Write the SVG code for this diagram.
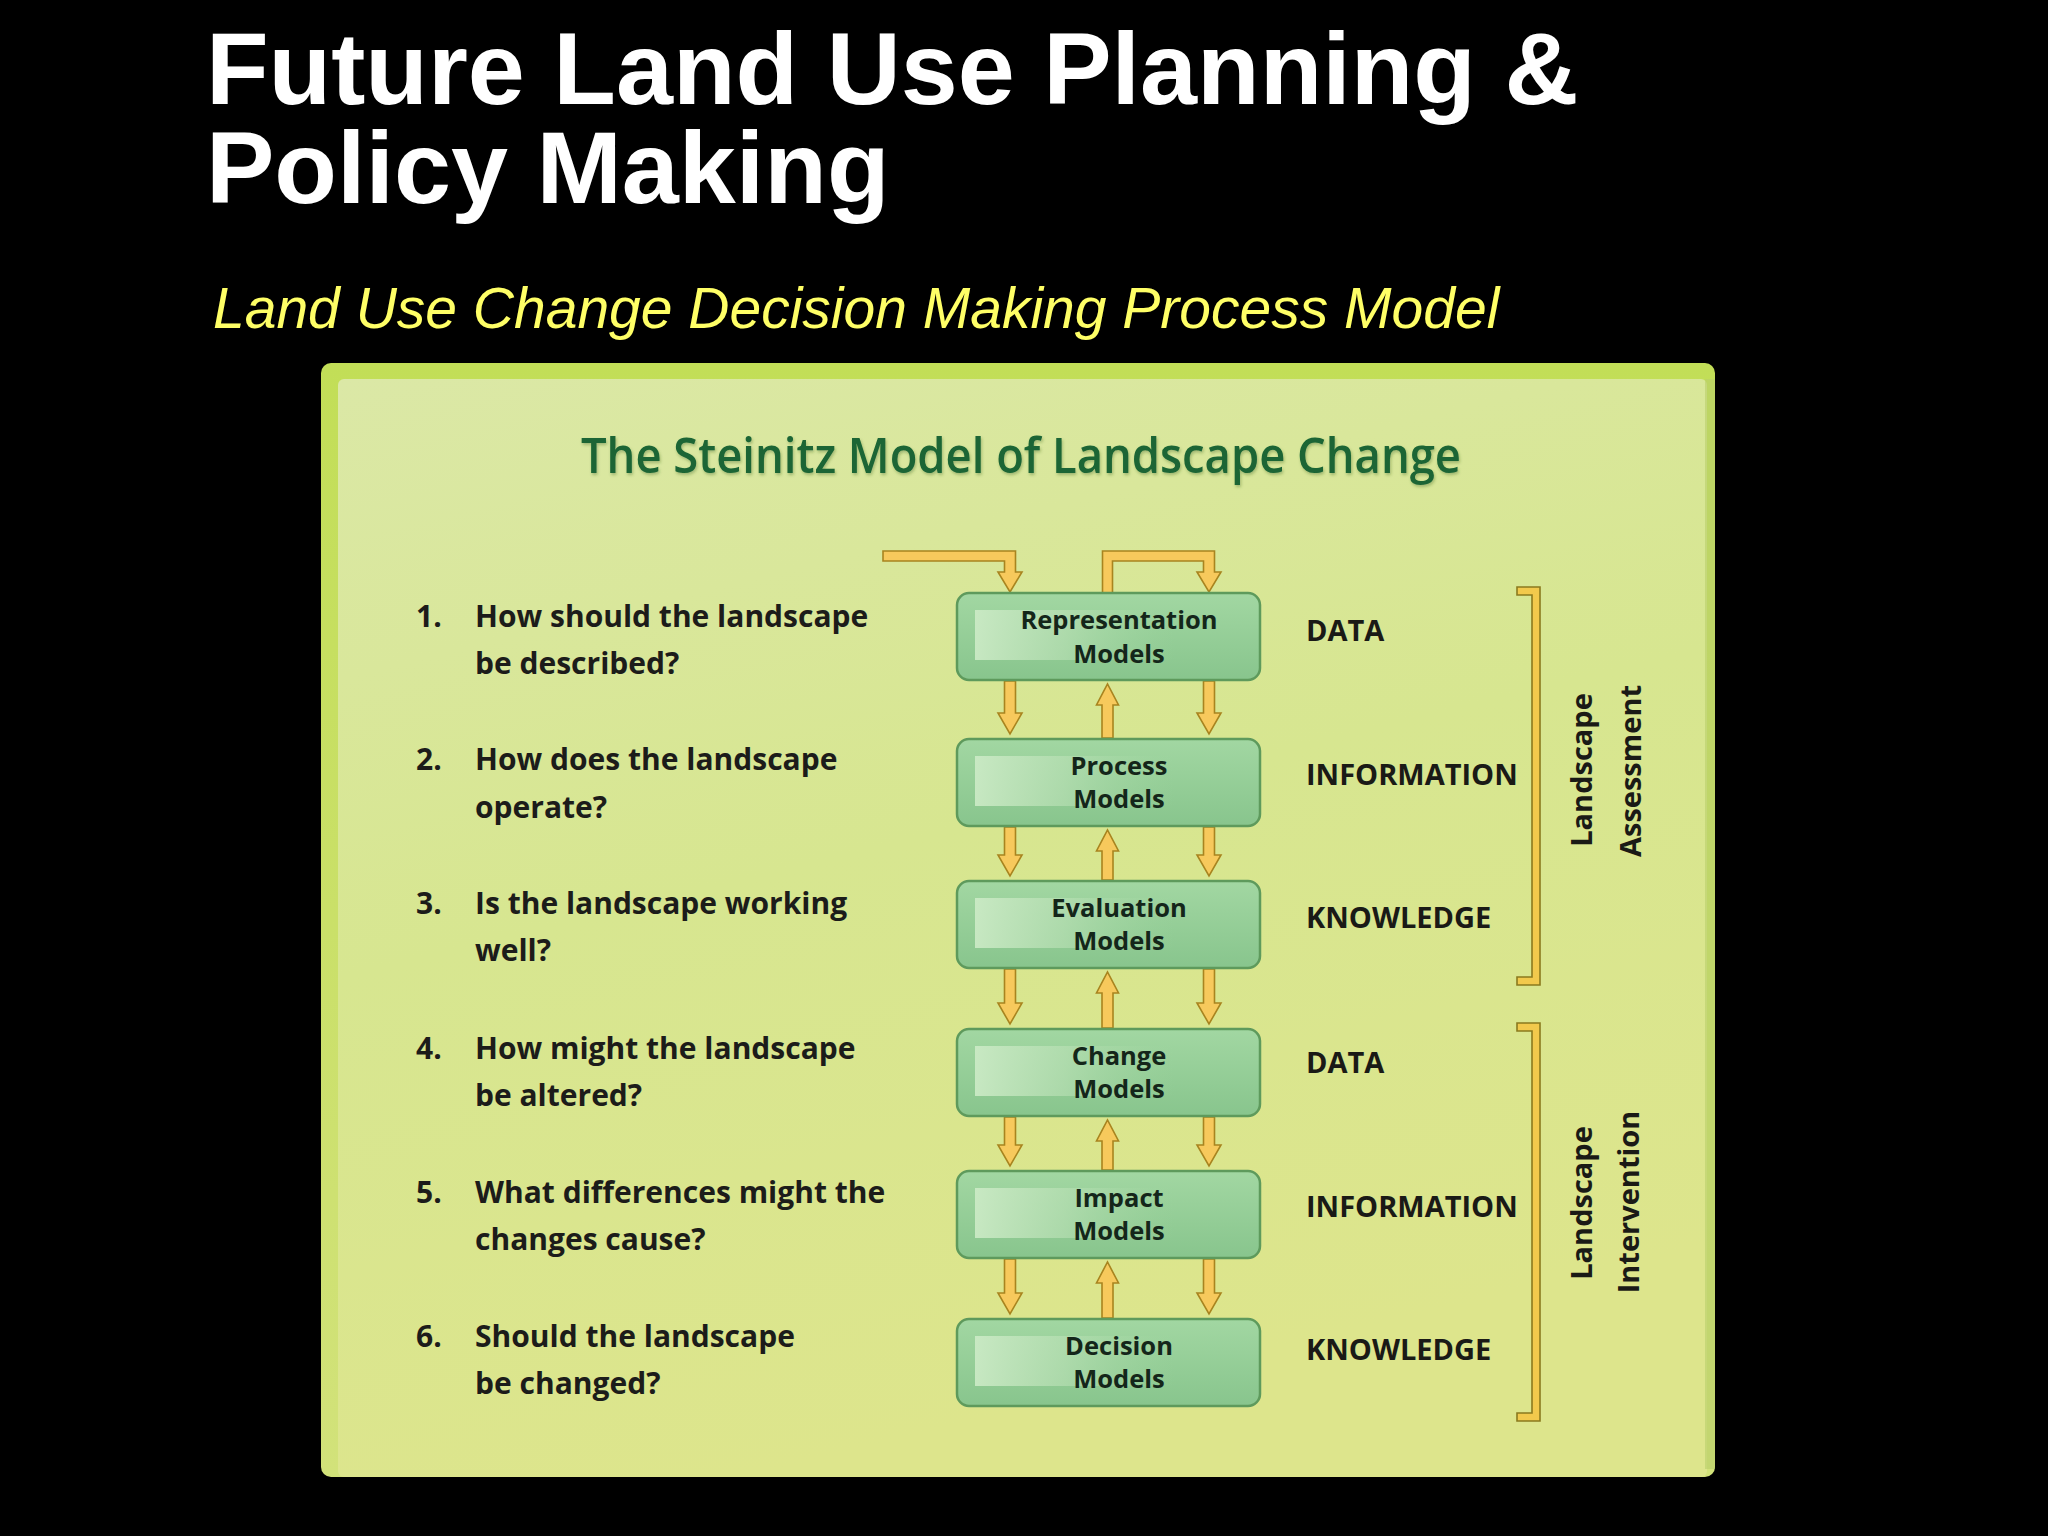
<svg xmlns="http://www.w3.org/2000/svg" width="2048" height="1536" viewBox="0 0 2048 1536">
<defs>
<linearGradient id="rim" x1="0" y1="0" x2="0" y2="1">
<stop offset="0" stop-color="#c2de57"/>
<stop offset="1" stop-color="#d2e27a"/>
</linearGradient>
<linearGradient id="inner" x1="0" y1="0" x2="0.3" y2="1">
<stop offset="0" stop-color="#dbe8a6"/>
<stop offset="0.5" stop-color="#d7e690"/>
<stop offset="1" stop-color="#dde58c"/>
</linearGradient>
<linearGradient id="boxfill" x1="0" y1="0" x2="0" y2="1">
<stop offset="0" stop-color="#a2d7a2"/>
<stop offset="1" stop-color="#88c58d"/>
</linearGradient>
<linearGradient id="hl" x1="0" y1="0" x2="1" y2="0">
<stop offset="0" stop-color="#cdebc7" stop-opacity="0.9"/>
<stop offset="0.45" stop-color="#bde2b8" stop-opacity="0.6"/>
<stop offset="1" stop-color="#a2d7a2" stop-opacity="0"/>
</linearGradient>
<filter id="tsh" x="-5%" y="-20%" width="110%" height="140%">
<feGaussianBlur in="SourceAlpha" stdDeviation="1.5"/>
<feOffset dx="1" dy="2" result="b"/>
<feFlood flood-color="#2f5a1c" flood-opacity="0.35"/>
<feComposite in2="b" operator="in"/>
<feMerge><feMergeNode/><feMergeNode in="SourceGraphic"/></feMerge>
</filter>
<style>
.title{font-family:"Liberation Sans",Arial,sans-serif;font-weight:700;font-size:102.5px;fill:#ffffff}
.sub{font-family:"Liberation Sans",Arial,sans-serif;font-style:italic;font-size:57px;fill:#ffff66}
.ptitle{font-family:"Open Sans","Noto Sans",sans-serif;font-weight:600;font-size:48px;fill:#1a6534}
.q{font-family:"Open Sans","Noto Sans",sans-serif;font-weight:700;font-size:30px;fill:#1c1c1a}
.bt{font-family:"Open Sans","Noto Sans",sans-serif;font-weight:700;font-size:25.5px;fill:#14261a;text-anchor:middle}
.lab{font-family:"Open Sans","Noto Sans",sans-serif;font-weight:700;font-size:29px;fill:#1a1a16}
.rot{font-family:"Open Sans","Noto Sans",sans-serif;font-weight:700;font-size:29px;fill:#1a1a16;text-anchor:middle}
.box{fill:url(#boxfill);stroke:#5e9a5c;stroke-width:2.5}
.arr{fill:#f7c95c;stroke:#a8841f;stroke-width:1.6;stroke-linejoin:miter}
.brk{fill:#f2c94c;stroke:#8a7a1e;stroke-width:1.6}
</style>
</defs>
<rect x="0" y="0" width="2048" height="1536" fill="#000000"/>

<g id="heading">
<text class="title" x="206" y="104">Future Land Use Planning &amp;</text>
<text class="title" x="206" y="203">Policy Making</text>
<text class="sub" x="213" y="328">Land Use Change Decision Making Process Model</text>
</g>

<g id="panel">
<rect x="321" y="363" width="1394" height="1114" rx="10" fill="url(#rim)"/>
<rect x="338" y="379" width="1369" height="1098" rx="6" fill="url(#inner)"/>
<rect x="1705" y="379" width="10" height="1090" fill="#b9cf6a" opacity="0.6"/>
<text class="ptitle" x="581" y="473" textLength="880" lengthAdjust="spacingAndGlyphs" filter="url(#tsh)">The Steinitz Model of Landscape Change</text>
</g>

<g id="questions">
<text class="q" x="416" y="627">1.</text>
<text class="q" x="475" y="627">How should the landscape</text>
<text class="q" x="475" y="674">be described?</text>
<text class="q" x="416" y="770">2.</text>
<text class="q" x="475" y="770">How does the landscape</text>
<text class="q" x="475" y="818">operate?</text>
<text class="q" x="416" y="914">3.</text>
<text class="q" x="475" y="914">Is the landscape working</text>
<text class="q" x="475" y="961">well?</text>
<text class="q" x="416" y="1059">4.</text>
<text class="q" x="475" y="1059">How might the landscape</text>
<text class="q" x="475" y="1106">be altered?</text>
<text class="q" x="416" y="1203">5.</text>
<text class="q" x="475" y="1203">What differences might the</text>
<text class="q" x="475" y="1250">changes cause?</text>
<text class="q" x="416" y="1347">6.</text>
<text class="q" x="475" y="1347">Should the landscape</text>
<text class="q" x="475" y="1394">be changed?</text>
</g>

<g id="connectors">
<path class="arr" d="M883,551 L1015.5,551 L1015.5,572 L1022,572 L1010,592 L998,572 L1004.5,572 L1004.5,561 L883,561 Z"/>
<path class="arr" d="M1102.5,593 L1102.5,551 L1214.5,551 L1214.5,572 L1221,572 L1209,592 L1197,572 L1203.5,572 L1203.5,561 L1112.5,561 L1112.5,593 Z"/>
<path class="arr" d="M1004.5,681 L1004.5,713 L998,713 L1010,734 L1022,713 L1015.5,713 L1015.5,681 Z"/>
<path class="arr" d="M1102,738 L1102,705 L1096.5,705 L1107.5,684 L1118.5,705 L1113,705 L1113,738 Z"/>
<path class="arr" d="M1203.5,681 L1203.5,713 L1197,713 L1209,734 L1221,713 L1214.5,713 L1214.5,681 Z"/>
<path class="arr" d="M1004.5,827 L1004.5,855 L998,855 L1010,876 L1022,855 L1015.5,855 L1015.5,827 Z"/>
<path class="arr" d="M1102,880 L1102,851 L1096.5,851 L1107.5,830 L1118.5,851 L1113,851 L1113,880 Z"/>
<path class="arr" d="M1203.5,827 L1203.5,855 L1197,855 L1209,876 L1221,855 L1214.5,855 L1214.5,827 Z"/>
<path class="arr" d="M1004.5,969 L1004.5,1003 L998,1003 L1010,1024 L1022,1003 L1015.5,1003 L1015.5,969 Z"/>
<path class="arr" d="M1102,1028 L1102,993 L1096.5,993 L1107.5,972 L1118.5,993 L1113,993 L1113,1028 Z"/>
<path class="arr" d="M1203.5,969 L1203.5,1003 L1197,1003 L1209,1024 L1221,1003 L1214.5,1003 L1214.5,969 Z"/>
<path class="arr" d="M1004.5,1117 L1004.5,1145 L998,1145 L1010,1166 L1022,1145 L1015.5,1145 L1015.5,1117 Z"/>
<path class="arr" d="M1102,1170 L1102,1141 L1096.5,1141 L1107.5,1120 L1118.5,1141 L1113,1141 L1113,1170 Z"/>
<path class="arr" d="M1203.5,1117 L1203.5,1145 L1197,1145 L1209,1166 L1221,1145 L1214.5,1145 L1214.5,1117 Z"/>
<path class="arr" d="M1004.5,1259 L1004.5,1293 L998,1293 L1010,1314 L1022,1293 L1015.5,1293 L1015.5,1259 Z"/>
<path class="arr" d="M1102,1318 L1102,1283 L1096.5,1283 L1107.5,1262 L1118.5,1283 L1113,1283 L1113,1318 Z"/>
<path class="arr" d="M1203.5,1259 L1203.5,1293 L1197,1293 L1209,1314 L1221,1293 L1214.5,1293 L1214.5,1259 Z"/>
</g>

<g id="node-representation">
<rect class="box" x="957" y="593" width="303" height="87" rx="12"/>
<rect x="975" y="610" width="200" height="50" fill="url(#hl)"/>
<text class="bt" x="1119" y="629">Representation</text>
<text class="bt" x="1119" y="663">Models</text>
</g>
<g id="node-process">
<rect class="box" x="957" y="739" width="303" height="87" rx="12"/>
<rect x="975" y="756" width="200" height="50" fill="url(#hl)"/>
<text class="bt" x="1119" y="775">Process</text>
<text class="bt" x="1119" y="808">Models</text>
</g>
<g id="node-evaluation">
<rect class="box" x="957" y="881" width="303" height="87" rx="12"/>
<rect x="975" y="898" width="200" height="50" fill="url(#hl)"/>
<text class="bt" x="1119" y="917">Evaluation</text>
<text class="bt" x="1119" y="950">Models</text>
</g>
<g id="node-change">
<rect class="box" x="957" y="1029" width="303" height="87" rx="12"/>
<rect x="975" y="1046" width="200" height="50" fill="url(#hl)"/>
<text class="bt" x="1119" y="1065">Change</text>
<text class="bt" x="1119" y="1098">Models</text>
</g>
<g id="node-impact">
<rect class="box" x="957" y="1171" width="303" height="87" rx="12"/>
<rect x="975" y="1188" width="200" height="50" fill="url(#hl)"/>
<text class="bt" x="1119" y="1207">Impact</text>
<text class="bt" x="1119" y="1240">Models</text>
</g>
<g id="node-decision">
<rect class="box" x="957" y="1319" width="303" height="87" rx="12"/>
<rect x="975" y="1336" width="200" height="50" fill="url(#hl)"/>
<text class="bt" x="1119" y="1355">Decision</text>
<text class="bt" x="1119" y="1388">Models</text>
</g>

<g id="levels">
<text class="lab" x="1306" y="641">DATA</text>
<text class="lab" x="1306" y="785">INFORMATION</text>
<text class="lab" x="1306" y="928">KNOWLEDGE</text>
<text class="lab" x="1306" y="1073">DATA</text>
<text class="lab" x="1306" y="1217">INFORMATION</text>
<text class="lab" x="1306" y="1360">KNOWLEDGE</text>
</g>

<g id="bracket-assessment">
<path class="brk" d="M1517,587 L1540,587 L1540,985 L1517,985 L1517,977 L1532,977 L1532,595 L1517,595 Z"/>
<text class="rot" transform="translate(1592,770) rotate(-90)">Landscape</text>
<text class="rot" transform="translate(1641,771) rotate(-90)">Assessment</text>
</g>
<g id="bracket-intervention">
<path class="brk" d="M1517,1023 L1540,1023 L1540,1421 L1517,1421 L1517,1413 L1532,1413 L1532,1031 L1517,1031 Z"/>
<text class="rot" transform="translate(1592,1203) rotate(-90)">Landscape</text>
<text class="rot" transform="translate(1639,1202) rotate(-90)">Intervention</text>
</g>
</svg>
